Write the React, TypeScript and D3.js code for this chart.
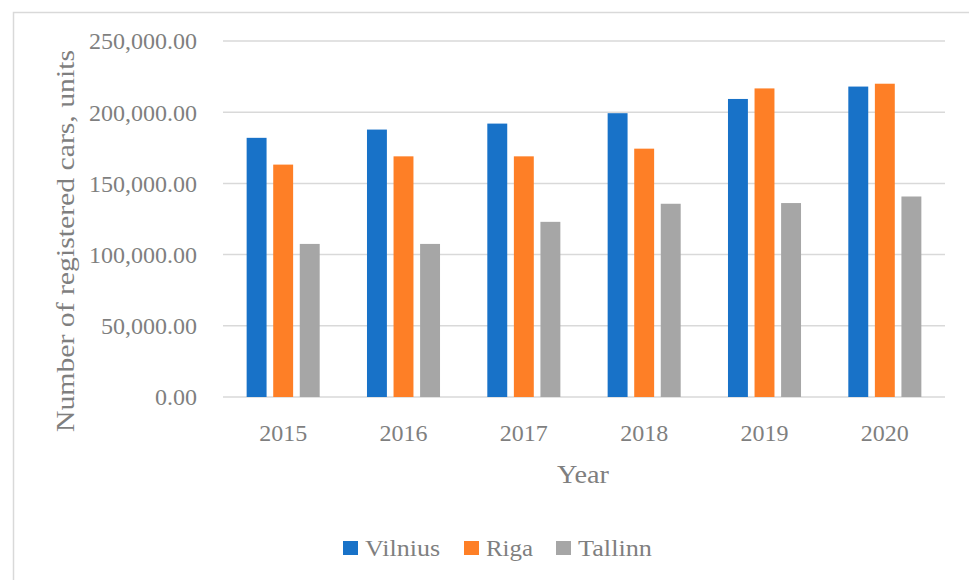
import React from "react";
import { scaleBand, scaleLinear, format } from "d3";

const years = ["2015", "2016", "2017", "2018", "2019", "2020"];
const seriesNames = ["Vilnius", "Riga", "Tallinn"];
const vilnius = [182000, 187800, 192000, 199300, 209300, 218000];
const riga = [163200, 169000, 169000, 174400, 216700, 220000];
const tallinn = [107500, 107500, 123000, 135700, 136200, 140800];
const yTicks = [0, 50000, 100000, 150000, 200000, 250000];
const colors = ["#1872C8", "#FE7F26", "#A6A6A6"];
const legendWidths = [75, 47, 74];

const seriesValues = [vilnius, riga, tallinn];
const FONT = "'Liberation Serif', 'Times New Roman', serif";
const TEXT = "#7F7F7F";
const GRID = "#D9D9D9";

function App() {
  const W = 969;
  const H = 580;
  const left = 223;
  const right = 945;
  const top = 41;
  const bottom = 397;

  const x = scaleBand<string>()
    .domain(years)
    .range([left, right])
    .paddingInner(0.393)
    .paddingOuter(0.1965);
  const xs = scaleBand<string>()
    .domain(seriesNames)
    .range([0, x.bandwidth()])
    .paddingInner(0.25);
  const y = scaleLinear().domain([0, 250000]).range([bottom, top]);
  const fmt = format(",.2f");

  const legendX = [343, 464, 556];
  const txt = { fontFamily: FONT, fill: TEXT };

  return (
    <svg
      width={W}
      height={H}
      style={{ position: "absolute", left: 0, top: 0, background: "#fff", fontFamily: FONT }}
    >
      <rect x={13.5} y={12.5} width={W + 20} height={H + 20} fill="#fff" stroke={GRID} strokeWidth={1.5} />

      {yTicks.map((t) => (
        <g key={t}>
          <line x1={left} x2={right} y1={y(t)} y2={y(t)} stroke={GRID} strokeWidth={1.5} />
          <text x={197} y={y(t)} dy="0.35em" textAnchor="end" fontSize={24} style={txt}>
            {fmt(t)}
          </text>
        </g>
      ))}

      {years.map((yr, i) => (
        <g key={yr} transform={`translate(${x(yr)},0)`}>
          {seriesNames.map((s, j) => (
            <rect
              key={s}
              x={xs(s)}
              y={y(seriesValues[j][i])}
              width={xs.bandwidth()}
              height={bottom - y(seriesValues[j][i])}
              fill={colors[j]}
            />
          ))}
          <text x={x.bandwidth() / 2} y={433} dy="0.35em" textAnchor="middle" fontSize={24} style={txt}>
            {yr}
          </text>
        </g>
      ))}

      <text
        transform={`translate(65,241) rotate(-90)`}
        dy="0.35em"
        textAnchor="middle"
        fontSize={25}
        textLength={382}
        lengthAdjust="spacingAndGlyphs"
        style={txt}
      >
        Number of registered cars, units
      </text>

      <text x={583} y={474} dy="0.35em" textAnchor="middle" fontSize={25} textLength={52} lengthAdjust="spacingAndGlyphs" style={txt}>
        Year
      </text>

      {seriesNames.map((s, j) => (
        <g key={s}>
          <rect x={legendX[j]} y={541} width={15} height={14} fill={colors[j]} />
          <text
            x={legendX[j] + 22}
            y={548}
            dy="0.35em"
            fontSize={24}
            textLength={legendWidths[j]}
            lengthAdjust="spacingAndGlyphs"
            style={txt}
          >
            {s}
          </text>
        </g>
      ))}
    </svg>
  );
}

export default App;
